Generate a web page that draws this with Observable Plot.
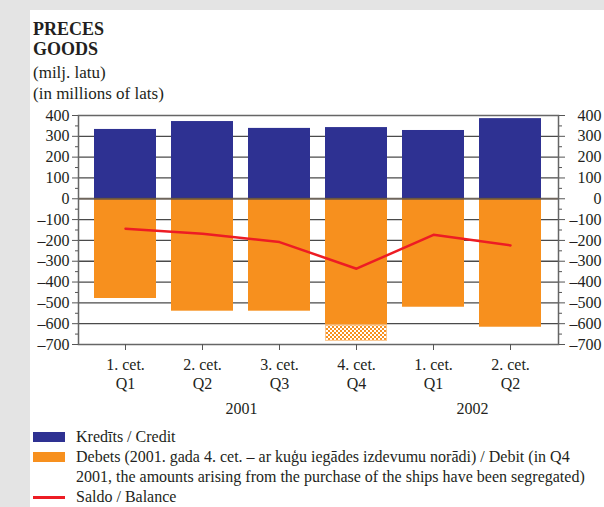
<!DOCTYPE html>
<html>
<head>
<meta charset="utf-8">
<script src="https://cdn.jsdelivr.net/npm/d3@7"></script>
<script src="https://cdn.jsdelivr.net/npm/@observablehq/plot@0.6"></script>
<style>
  html, body { margin: 0; padding: 0; }
  body { width: 604px; height: 507px; background: #e4e4e4; position: relative; overflow: hidden;
         font-family: "Liberation Serif", serif; color: #231f20; }
  #panel { position: absolute; left: 30px; top: 10px; right: 0; bottom: 0; background: #fff; }
  #title { position: absolute; left: 33px; top: 19px; font-size: 18px; font-weight: bold; line-height: 20px; }
  #sub { position: absolute; left: 33px; top: 62px; font-size: 17px; line-height: 21px; }
  #chart { position: absolute; left: 30px; top: 100px; }
  #legend { position: absolute; left: 33px; top: 427px; font-size: 16px; line-height: 20px; width: 571px; }
  .row { position: relative; padding-left: 43px; }
  .sw { position: absolute; left: 0; top: 5px; width: 32px; height: 10px; }
  .ln { position: absolute; left: 0; top: 9px; width: 32px; height: 2.5px; background: #ed1c24; }
</style>
</head>
<body>
<div id="panel"></div>
<div id="title">PRECES<br>GOODS</div>
<div id="sub">(milj. latu)<br>(in millions of lats)</div>
<div id="chart"></div>
<div id="legend">
  <div class="row"><span class="sw" style="background:#2e3192"></span>Kredīts / Credit</div>
  <div class="row"><span class="sw" style="background:#f7901e"></span>Debets (2001. gada 4. cet. – ar kuģu iegādes izdevumu norādi) / Debit (in Q4 2001, the amounts arising from the purchase of the ships have been segregated)</div>
  <div class="row"><span class="ln"></span>Saldo / Balance</div>
</div>
<script>
const periods = ["2001 Q1", "2001 Q2", "2001 Q3", "2001 Q4", "2002 Q1", "2002 Q2"];
const tickLabels = ["1. cet.\nQ1", "2. cet.\nQ2", "3. cet.\nQ3", "4. cet.\nQ4", "1. cet.\nQ1", "2. cet.\nQ2"];
const credit = [333, 371, 338, 342, 328, 385];
const debit = [-479, -540, -540, -607, -521, -617];
const shipsPurchase = [0, 0, 0, -78, 0, 0];
const balance = [-144, -168, -208, -336, -173, -224];
const years = ["2001", "2002"];
const yearAnchors = ["2001 Q2", "2002 Q1"];
const yTicks = [400, 300, 200, 100, 0, -100, -200, -300, -400, -500, -600, -700];
const yMinorTicks = [350, 250, 150, 50, -50, -150, -250, -350, -450, -550, -650];

const rows = periods.map((p, i) => ({
  period: p, credit: credit[i], debit: debit[i],
  shipsTop: debit[i], shipsBottom: debit[i] + shipsPurchase[i], ships: shipsPurchase[i],
  balance: balance[i]
}));
const labelOf = Object.fromEntries(periods.map((p, i) => [p, tickLabels[i]]));
const fmt = d => d < 0 ? "\u2013" + Math.abs(d) : String(d);
const yearRows = years.map((y, i) => ({ year: y, at: yearAnchors[i] }));

const chart = Plot.plot({
  width: 574,
  height: 320,
  marginLeft: 48,
  marginRight: 46,
  marginTop: 15,
  marginBottom: 76,
  style: { fontFamily: "Liberation Serif, serif", fontSize: "16px", color: "#231f20", background: "transparent" },
  x: { domain: periods, padding: 0.19, axis: null },
  y: { domain: [-700, 400], axis: null },
  marks: [
    Plot.ruleY(yTicks.filter(d => d !== 0 && d !== 400 && d !== -700), { stroke: "#4a4a4a", strokeWidth: 1.3 }),
    Plot.barY(rows, { x: "period", y1: 0, y2: "credit", fill: "#2e3192" }),
    Plot.barY(rows, { x: "period", y1: 0, y2: "debit", fill: "#f7901e" }),
    Plot.barY(rows.filter(d => d.ships !== 0), { x: "period", y1: "shipsTop", y2: "shipsBottom", fill: "url(#dots)", stroke: "#fbc58c", strokeWidth: 1, inset: 0.5 }),
    Plot.ruleY([0], { stroke: "#554a40", strokeOpacity: 0.85, strokeWidth: 2 }),
    Plot.line(rows, { x: "period", y: "balance", stroke: "#ed1c24", strokeWidth: 2.5 }),
    Plot.frame({ stroke: "#666", strokeWidth: 1.5 }),
    // left axis
    Plot.axisY(yTicks, { anchor: "left", tickSize: 6, tickPadding: 3, tickFormat: fmt, stroke: "#555", fontSize: 16 }),
    Plot.axisY(yMinorTicks, { anchor: "left", tickSize: 3, text: null, stroke: "#555" }),
    // right axis
    Plot.axisY(yTicks, { anchor: "right", tickSize: 6, text: null, stroke: "#555" }),
    Plot.axisY(yMinorTicks, { anchor: "right", tickSize: 3, text: null, stroke: "#555" }),
    Plot.text(yTicks, { y: d => d, text: fmt, frameAnchor: "right", textAnchor: "end", dx: 43, fontSize: 16 }),
    // bottom axis
    Plot.axisX({ anchor: "bottom", tickSize: 6, tickPadding: 6, tickFormat: d => labelOf[d], lineHeight: 1.2, stroke: "#555", label: null, fontSize: 16 }),
    Plot.text(yearRows, { x: "at", text: "year", frameAnchor: "bottom", dy: 69, dx: 39, fontSize: 16 })
  ]
});

// pattern for segregated ship purchases
const defs = d3.select(chart).insert("defs", ":first-child");
const pat = defs.append("pattern").attr("id", "dots").attr("patternUnits", "userSpaceOnUse")
  .attr("width", 4).attr("height", 4);
pat.append("rect").attr("width", 4).attr("height", 4).attr("fill", "#fff");
pat.append("rect").attr("x", 0).attr("y", 0).attr("width", 2).attr("height", 2).attr("fill", "#f7901e");
pat.append("rect").attr("x", 2).attr("y", 2).attr("width", 2).attr("height", 2).attr("fill", "#f7901e");

document.getElementById("chart").appendChild(chart);
</script>
</body>
</html>
